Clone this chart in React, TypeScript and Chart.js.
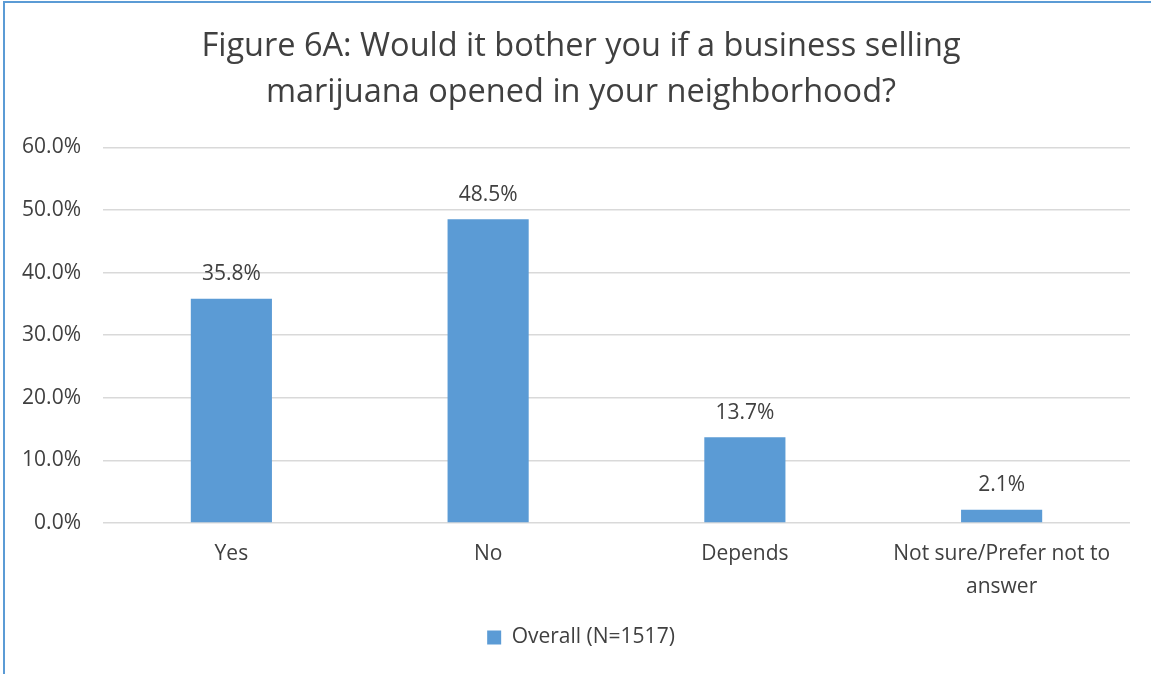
import React, { useEffect, useRef } from "react";
import { Chart, registerables } from "chart.js";

Chart.register(...registerables);

const titleLines = [
  "Figure 6A: Would it bother you if a business selling",
  "marijuana opened in your neighborhood?",
];
const categories: (string | string[])[] = ["Yes", "No", "Depends", ["Not sure/Prefer not to", "answer"]];
const seriesName = "Overall (N=1517)";
const values = [35.8, 48.5, 13.7, 2.1];
const yTicks = [0, 10, 20, 30, 40, 50, 60];

const FONT = "'Open Sans', sans-serif";
const TEXT = "#404040";
const BAR = "#5B9BD5";

const valueLabels = {
  id: "valueLabels",
  afterDatasetsDraw(chart: any) {
    const ctx = chart.ctx;
    const meta = chart.getDatasetMeta(0);
    ctx.save();
    ctx.font = `21px ${FONT}`;
    ctx.fillStyle = TEXT;
    ctx.textAlign = "center";
    ctx.textBaseline = "bottom";
    meta.data.forEach((el: any, i: number) => {
      ctx.fillText(values[i].toFixed(1) + "%", el.x, el.y - 14);
    });
    ctx.restore();
  },
};

export default function App() {
  const ref = useRef<HTMLCanvasElement>(null);
  useEffect(() => {
    const chart = new Chart(ref.current!, {
      type: "bar",
      data: {
        labels: categories,
        datasets: [
          {
            label: seriesName,
            data: values,
            backgroundColor: BAR,
            borderWidth: 0,
            barPercentage: 0.316,
            categoryPercentage: 1,
          },
        ],
      },
      options: {
        animation: false,
        responsive: false,
        maintainAspectRatio: false,
        layout: { padding: { left: 0, right: 0, top: 0, bottom: 16 } },
        plugins: {
          title: {
            display: true,
            text: titleLines,
            color: TEXT,
            font: { family: FONT, size: 32.5, weight: "normal" as any, lineHeight: 1.42 },
            padding: { top: 24, bottom: 31 },
          },
          legend: {
            position: "bottom",
            labels: {
              color: TEXT,
              font: { family: FONT, size: 21 },
              boxWidth: 14,
              boxHeight: 14,
              padding: 10,
            },
          },
          tooltip: { enabled: false },
        },
        scales: {
          x: {
            grid: { display: false },
            border: { display: false },
            ticks: { color: TEXT, font: { family: FONT, size: 21, lineHeight: 1.55 }, padding: 7, maxRotation: 0 },
            afterFit: (s: any) => {
              s.height = 94;
            },
          },
          y: {
            min: 0,
            max: 60,
            afterBuildTicks: (s: any) => {
              s.ticks = yTicks.map((v) => ({ value: v }));
            },
            grid: { color: "#d9d9d9", lineWidth: 1.5, drawTicks: false },
            border: { display: false },
            ticks: {
              color: TEXT,
              font: { family: FONT, size: 21 },
              padding: 22,
              callback: (v: any) => Number(v).toFixed(1) + "%",
            },
            afterFit: (s: any) => {
              s.width = 103;
            },
          },
          yRightSpace: {
            type: "linear",
            position: "right",
            display: true,
            grid: { display: false, drawTicks: false },
            border: { display: false },
            ticks: { display: false },
            afterFit: (s: any) => {
              s.width = 32;
            },
          },
        },
      },
      plugins: [valueLabels],
    });
    return () => chart.destroy();
  }, []);
  return (
    <div
      style={{
        position: "fixed",
        left: 0,
        top: 0,
        width: 1151,
        height: 674,
        background: "#fff",
        overflow: "hidden",
      }}
    >
      <div
        style={{
          position: "absolute",
          left: 3,
          top: 1,
          width: 1160,
          height: 700,
          borderLeft: "2px solid #5B9BD5",
          borderTop: "2px solid #5B9BD5",
          boxSizing: "border-box",
        }}
      />
      <canvas ref={ref} width={1162} height={674} style={{ position: "absolute", left: 0, top: 0 }} />
    </div>
  );
}
